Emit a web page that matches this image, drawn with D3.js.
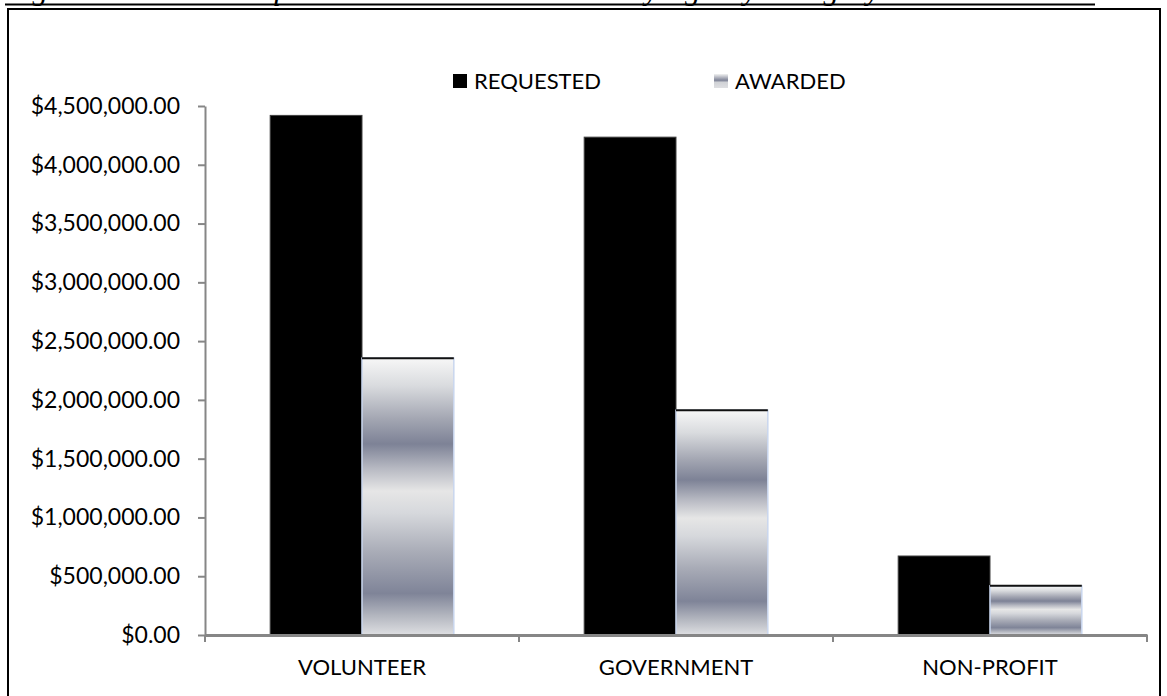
<!DOCTYPE html>
<html>
<head>
<meta charset="utf-8">
<script src="https://cdn.jsdelivr.net/npm/d3@7"></script>
<style>
  body { margin: 0; background: #fff; }
  svg { display: block; }
  .tick text { font-family: Lato, "Open Sans", sans-serif; fill: #000; }
</style>
</head>
<body>
<div id="chart"></div>
<script>
// Chart data
const categories = ['VOLUNTEER', 'GOVERNMENT', 'NON-PROFIT'];
const seriesNames = ['REQUESTED', 'AWARDED'];
const requested = [4420000, 4235000, 672000];
const awarded = [2355000, 1912000, 418000];
const yTicks = [0, 500000, 1000000, 1500000, 2000000, 2500000, 3000000, 3500000, 4000000, 4500000];

const W = 1167, H = 696;
let margin = { top: 106, left: 205, right: 20, bottom: 61 },
    width = 1147 - margin.left,
    height = 635 - margin.top;

const svg = d3.select('#chart').append('svg')
    .attr('width', W)
    .attr('height', H);

// gradient used for the awarded bars
const defs = svg.append('defs');
const grad = defs.append('linearGradient')
    .attr('id', 'metal')
    .attr('x1', 0).attr('y1', 0).attr('x2', 0).attr('y2', 1);
[[0, '#f7f7f7'], [0.1, '#d9dbde'], [0.22, '#a3a6b2'], [0.31, '#7d8296'], [0.4, '#b8bac3'],
 [0.48, '#e6e6e6'], [0.56, '#d6d8dc'], [0.7, '#a9acb7'], [0.85, '#7f8498'], [0.93, '#b3b6bf'], [1, '#dedfe2']]
  .forEach(s => grad.append('stop').attr('offset', s[0]).attr('stop-color', s[1]));

const legGrad = defs.append('linearGradient')
    .attr('id', 'metalSmall')
    .attr('x1', 0).attr('y1', 0).attr('x2', 0).attr('y2', 1);
[[0, '#f2f2f2'], [0.45, '#7e8396'], [0.6, '#d0d2d6'], [1, '#dedfe2']]
  .forEach(s => legGrad.append('stop').attr('offset', s[0]).attr('stop-color', s[1]));

// caption line at the very top of the page (cut by the page edge, as in the source)
svg.append('text')
    .attr('x', 5)
    .attr('y', -1)
    .style('font-family', '"Liberation Serif", serif')
    .style('font-style', 'italic')
    .style('font-size', '31px')
    .text('Figure 6: Amount Requested vs. Amount Awarded by Agency Category');
svg.append('line')
    .attr('x1', 5).attr('x2', 1095)
    .attr('y1', 4.5).attr('y2', 4.5)
    .attr('stroke', '#000').attr('stroke-width', 2);

// chart frame
svg.append('rect')
    .attr('x', 8).attr('y', 9)
    .attr('width', 1152).attr('height', 700)
    .attr('fill', 'none')
    .attr('stroke', '#000')
    .attr('stroke-width', 2);

const g = svg.append('g')
    .attr('transform', 'translate(' + margin.left + ',' + margin.top + ')');

const x0 = d3.scaleBand()
    .domain(categories)
    .range([0, width])
    .paddingInner(0)
    .paddingOuter(0);

const x1 = d3.scaleBand()
    .domain(seriesNames)
    .range([0, x0.bandwidth()])
    .paddingInner(0)
    .paddingOuter(0.71);

const y = d3.scaleLinear()
    .domain([0, 4500000])
    .range([height, 0]);

const fmt = d => '$' + d3.format(',.2f')(d);

// y axis
const yAxis = g.append('g')
    .call(d3.axisLeft(y).tickValues(yTicks).tickFormat(fmt).tickSize(7).tickSizeOuter(0).tickPadding(18));
yAxis.select('.domain').attr('stroke', '#868686').attr('stroke-width', 2);
yAxis.selectAll('.tick line').attr('stroke', '#868686').attr('stroke-width', 2);
yAxis.selectAll('.tick text').style('font-size', '23px');

// bars
const groups = g.selectAll('.cat')
    .data(categories)
    .enter().append('g')
    .attr('transform', d => 'translate(' + x0(d) + ',0)');

groups.append('rect')
    .attr('x', x1('REQUESTED'))
    .attr('y', (d, i) => y(requested[i]))
    .attr('width', x1.bandwidth())
    .attr('height', (d, i) => height - y(requested[i]))
    .attr('fill', '#000')
    .attr('stroke', '#404040')
    .attr('stroke-width', 1);

groups.append('rect')
    .attr('x', x1('AWARDED'))
    .attr('y', (d, i) => y(awarded[i]))
    .attr('width', x1.bandwidth())
    .attr('height', (d, i) => height - y(awarded[i]))
    .attr('fill', 'url(#metal)')
    .attr('stroke', '#c9d6ee')
    .attr('stroke-width', 1.5);

// dark top edge on awarded bars
groups.append('line')
    .attr('x1', x1('AWARDED'))
    .attr('x2', x1('AWARDED') + x1.bandwidth())
    .attr('y1', (d, i) => y(awarded[i]))
    .attr('y2', (d, i) => y(awarded[i]))
    .attr('stroke', '#111')
    .attr('stroke-width', 2);

// x axis
const xAxis = g.append('g')
    .attr('transform', 'translate(0,' + height + ')')
    .call(d3.axisBottom(x0).tickSize(0).tickPadding(24));
xAxis.select('.domain').attr('stroke', '#868686').attr('stroke-width', 3);
xAxis.selectAll('.tick text').style('font-size', '22px');

// category separator ticks
g.selectAll('.sep')
    .data([0, 1, 2, 3])
    .enter().append('line')
    .attr('x1', d => d * x0.step())
    .attr('x2', d => d * x0.step())
    .attr('y1', height)
    .attr('y2', height + 7)
    .attr('stroke', '#868686')
    .attr('stroke-width', 2);

// legend
const legend = svg.append('g')
    .attr('transform', 'translate(453,74)');
const legendX = [0, 261];
seriesNames.forEach((name, i) => {
  const item = legend.append('g').attr('transform', 'translate(' + legendX[i] + ',0)');
  item.append('rect')
      .attr('width', 14).attr('height', 14)
      .attr('fill', i === 0 ? '#000' : 'url(#metalSmall)');
  item.append('text')
      .attr('x', 21).attr('y', 7)
      .attr('dy', '0.35em')
      .style('font-family', 'Lato, "Open Sans", sans-serif')
      .style('font-size', '22px')
      .text(name);
});
</script>
</body>
</html>
